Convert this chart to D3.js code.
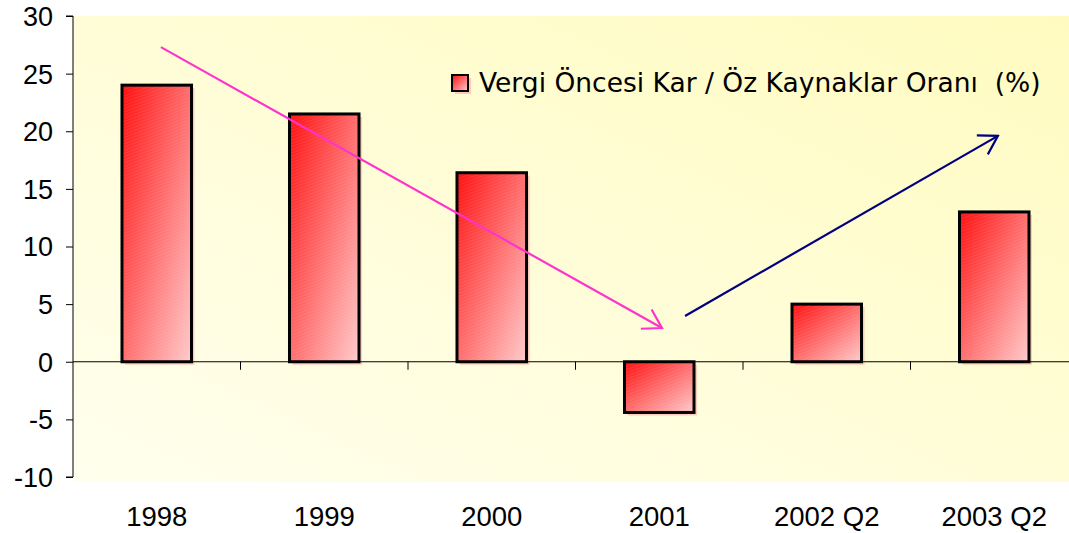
<!DOCTYPE html>
<html><head><meta charset="utf-8">
<script src="https://cdn.jsdelivr.net/npm/d3@7"></script>
<style>body{margin:0;background:#fff}svg{display:block}</style>
</head><body>
<svg id="c" width="1069" height="533"></svg>
<script>
const categories = ["1998","1999","2000","2001","2002 Q2","2003 Q2"];
const values = [24.0, 21.5, 16.4, -4.4, 5.0, 13.0];
const yTicks = [30,25,20,15,10,5,0,-5,-10];
const legendLabel = "Vergi Öncesi Kar / Öz Kaynaklar Oranı  (%)";
// trend arrows: [category position, value] endpoints
const downArrow = [[0.025, 27.3],[3.016, 2.93]];
const upArrow = [[3.154, 3.97],[5.022, 19.6]];

const svg = d3.select("#c");
const W = 1069;
const left = 73, right = 1078;
const x = d3.scaleBand().domain(categories).range([left, right]).paddingInner(0.585).paddingOuter(0.2925);
const xb = d3.scaleBand().domain(categories).range([left, right]);
const y = d3.scaleLinear().domain([-10,30]).range([477,16]);
const xc = i => xb(categories[0]) + xb.bandwidth()*(i+0.5);

const defs = svg.append("defs");
const bg = defs.append("linearGradient").attr("id","bg").attr("x1","0").attr("y1","1").attr("x2","1").attr("y2","0");
bg.append("stop").attr("offset","0").attr("stop-color","#ffffee");
bg.append("stop").attr("offset","1").attr("stop-color","#fffbc0");
const bar = defs.append("linearGradient").attr("id","bar").attr("x1","0").attr("y1","0").attr("x2","1").attr("y2","1");
bar.append("stop").attr("offset","0").attr("stop-color","#ff1010");
bar.append("stop").attr("offset","1").attr("stop-color","#ffcaca");
const pat = defs.append("pattern").attr("id","stripe").attr("width",3).attr("height",3).attr("patternUnits","userSpaceOnUse").attr("patternTransform","rotate(70)");
pat.append("rect").attr("width",1).attr("height",3).attr("fill","#fff").attr("opacity",0.07);
["pk","nv"].forEach((id,k)=>{
  defs.append("marker").attr("id",id).attr("viewBox","0 0 24 24").attr("refX",22).attr("refY",12)
   .attr("markerWidth",24).attr("markerHeight",24).attr("markerUnits","userSpaceOnUse").attr("orient","auto")
   .append("path").attr("d","M4,1 L22,12 L4,23").attr("fill","none").attr("stroke",k?"#000080":"#ff33cc").attr("stroke-width",2.2);
});

svg.append("rect").attr("x",left).attr("y",16).attr("width",W-left).attr("height",482-16).attr("fill","url(#bg)");

// bars shadow
svg.append("g").selectAll("rect").data(values).join("rect")
  .attr("x",(d,i)=>x(categories[i])+3).attr("y",d=>y(Math.max(0,d))+3)
  .attr("width",x.bandwidth()).attr("height",d=>Math.abs(y(d)-y(0)))
  .attr("fill","#ff9a9a").attr("opacity",0.5);
const bars = svg.append("g").selectAll("g").data(values).join("g");
bars.append("rect")
  .attr("x",(d,i)=>x(categories[i])).attr("y",d=>y(Math.max(0,d)))
  .attr("width",x.bandwidth()).attr("height",d=>Math.abs(y(d)-y(0)))
  .attr("fill","url(#bar)");
bars.append("rect")
  .attr("x",(d,i)=>x(categories[i])).attr("y",d=>y(Math.max(0,d)))
  .attr("width",x.bandwidth()).attr("height",d=>Math.abs(y(d)-y(0)))
  .attr("fill","url(#stripe)").attr("stroke","#000").attr("stroke-width",3);

// zero line with category ticks
svg.append("line").attr("x1",left).attr("x2",W).attr("y1",y(0)).attr("y2",y(0)).attr("stroke","#000").attr("stroke-width",1);
svg.append("g").selectAll("line").data(categories.slice(1)).join("line")
  .attr("x1",d=>xb(d)).attr("x2",d=>xb(d)).attr("y1",y(0)).attr("y2",y(0)+8).attr("stroke","#000");

// y axis
const ya = svg.append("g").attr("transform",`translate(${left},0)`)
  .call(d3.axisLeft(y).tickValues(yTicks).tickSize(7).tickPadding(13).tickFormat(d => String(d)));
ya.select(".domain").attr("stroke","#000").attr("d",`M-7,${y(30)}H0V${y(-10)}H-7`);
ya.selectAll("text").attr("font-family","Liberation Sans, Arial, sans-serif").attr("font-size",27).attr("fill","#000").attr("dy","0.35em");

// x labels
svg.append("g").selectAll("text").data(categories).join("text")
  .attr("x",(d,i)=>xc(i)).attr("y",526).attr("text-anchor","middle")
  .attr("font-family","Liberation Sans, Arial, sans-serif").attr("font-size",27.5).text(d=>d);

// arrows
const line = d3.line().x(d=>xc(d[0])).y(d=>y(d[1]));
svg.append("path").attr("d",line(downArrow)).attr("stroke","#ff33cc").attr("stroke-width",2.2).attr("fill","none").attr("marker-end","url(#pk)");
svg.append("path").attr("d",line(upArrow)).attr("stroke","#000080").attr("stroke-width",2.2).attr("fill","none").attr("marker-end","url(#nv)");

// legend
const lg = svg.append("g").attr("transform","translate(452,75)");
lg.append("rect").attr("x",3).attr("y",3).attr("width",16).attr("height",16).attr("fill","#ff9a9a").attr("opacity",0.5);
lg.append("rect").attr("width",16).attr("height",16).attr("fill","url(#bar)").attr("stroke","#000").attr("stroke-width",2);
lg.append("text").attr("x",27).attr("y",17).attr("font-family","DejaVu Sans, sans-serif")
  .attr("font-size",26.5).attr("fill","#000").style("white-space","pre").text(legendLabel);
</script>
</body></html>
